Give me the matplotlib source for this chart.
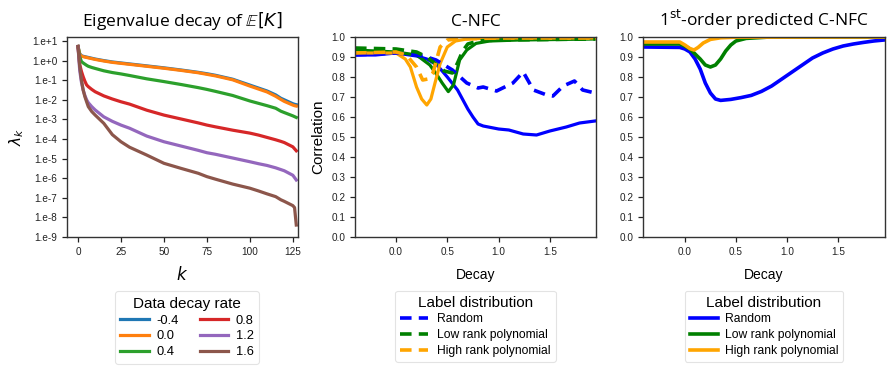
import numpy as np
import matplotlib
matplotlib.use("Agg")
import matplotlib.pyplot as plt
from matplotlib.ticker import FixedLocator, FixedFormatter

plt.rcParams['font.family'] = ['Liberation Sans', 'DejaVu Sans']
plt.rcParams['mathtext.fontset'] = 'dejavusans'

# ---------------- Panel 1 data (log10 eigenvalues) ----------------
k_pts = [0, 1, 2, 3, 4, 5, 6, 8, 10, 15, 20, 25, 30, 40, 50, 60, 70, 75, 80, 90, 100, 105, 110, 115, 118, 120, 125, 126, 127]
decay_rates = ["-0.4", "0.0", "0.4", "0.8", "1.2", "1.6"]
log_m04 = [0.72, 0.35, 0.25, 0.22, 0.20, 0.18, 0.16, 0.12, 0.08, 0.0, -0.07, -0.12, -0.17, -0.27, -0.37, -0.48, -0.6, -0.67, -0.75, -0.95, -1.25, -1.40, -1.55, -1.75, -1.92, -2.0, -2.2, -2.23, -2.25]
log_00 = [0.72, 0.33, 0.23, 0.20, 0.18, 0.16, 0.14, 0.10, 0.06, -0.02, -0.09, -0.14, -0.19, -0.29, -0.39, -0.50, -0.62, -0.70, -0.78, -0.98, -1.30, -1.45, -1.60, -1.82, -1.98, -2.08, -2.27, -2.30, -2.32]
log_04 = [0.72, 0.2, -0.05, -0.12, -0.18, -0.24, -0.29, -0.35, -0.40, -0.52, -0.61, -0.68, -0.76, -0.93, -1.07, -1.22, -1.38, -1.47, -1.57, -1.78, -2.06, -2.18, -2.30, -2.43, -2.58, -2.65, -2.82, -2.86, -2.9]
log_08 = [0.72, -0.2, -0.55, -0.82, -1.05, -1.24, -1.33, -1.47, -1.59, -1.80, -1.96, -2.10, -2.22, -2.53, -2.78, -2.98, -3.18, -3.29, -3.38, -3.55, -3.70, -3.80, -3.92, -4.04, -4.12, -4.18, -4.40, -4.50, -4.6]
log_12 = [0.72, -0.5, -1.1, -1.5, -1.78, -2.0, -2.15, -2.35, -2.52, -2.87, -3.10, -3.29, -3.45, -3.85, -4.14, -4.36, -4.58, -4.70, -4.78, -4.97, -5.16, -5.26, -5.35, -5.47, -5.56, -5.62, -5.85, -5.97, -6.09]
log_16 = [0.72, -0.3, -0.99, -1.5, -1.84, -2.1, -2.35, -2.60, -2.78, -3.20, -3.78, -4.14, -4.42, -4.82, -5.24, -5.50, -5.75, -5.92, -6.05, -6.30, -6.51, -6.65, -6.80, -6.94, -7.10, -7.18, -7.40, -7.50, -8.39]
log_series = [log_m04, log_00, log_04, log_08, log_12, log_16]
p1_colors = ["#1f77b4", "#ff7f0e", "#2ca02c", "#d62728", "#9467bd", "#8c564b"]
ytick_exps = [1, 0, -1, -2, -3, -4, -5, -6, -7, -8, -9]
ytick_labels = ["1.e+1", "1.e+0", "1.e-1", "1.e-2", "1.e-3", "1.e-4", "1.e-5", "1.e-6", "1.e-7", "1.e-8", "1.e-9"]

# ---------------- Panel 2 data (C-NFC) ----------------
labels = ["Random", "Low rank polynomial", "High rank polynomial"]
p23_colors = ["blue", "green", "orange"]

rand_solid_d = [-0.4, -0.2, 0.0, 0.2, 0.3, 0.4, 0.5, 0.6, 0.7, 0.75, 0.8, 0.85, 1.0, 1.1, 1.24, 1.37, 1.5, 1.66, 1.79, 1.94]
rand_solid_v = [0.91, 0.91, 0.92, 0.905, 0.89, 0.86, 0.80, 0.735, 0.64, 0.60, 0.565, 0.555, 0.54, 0.535, 0.515, 0.51, 0.53, 0.55, 0.57, 0.58]
rand_dash_d = [-0.4, -0.2, 0.0, 0.2, 0.3, 0.39, 0.55, 0.69, 0.8, 0.85, 0.98, 1.14, 1.24, 1.34, 1.47, 1.53, 1.63, 1.74, 1.82, 1.94]
rand_dash_v = [0.91, 0.915, 0.92, 0.91, 0.9, 0.885, 0.835, 0.77, 0.745, 0.75, 0.73, 0.77, 0.825, 0.735, 0.71, 0.705, 0.755, 0.78, 0.735, 0.72]
low_solid_d = [-0.4, 0.0, 0.2, 0.33, 0.4, 0.45, 0.51, 0.56, 0.62, 0.69, 0.78, 0.91, 1.2, 1.94]
low_solid_v = [0.935, 0.925, 0.91, 0.86, 0.81, 0.77, 0.727, 0.76, 0.885, 0.935, 0.968, 0.98, 0.985, 0.99]
low_dash_d = [-0.4, 0.0, 0.2, 0.3, 0.4, 0.47, 0.55, 0.6, 0.65, 0.7, 0.8, 1.0, 1.94]
low_dash_v = [0.945, 0.94, 0.925, 0.9, 0.86, 0.83, 0.82, 0.87, 0.93, 0.965, 0.98, 0.985, 0.99]
high_solid_d = [-0.4, 0.0, 0.09, 0.14, 0.2, 0.25, 0.3, 0.34, 0.38, 0.43, 0.5, 0.58, 0.69, 1.0, 1.94]
high_solid_v = [0.92, 0.92, 0.89, 0.85, 0.75, 0.69, 0.66, 0.69, 0.77, 0.867, 0.95, 0.98, 0.99, 0.995, 0.995]
high_dash_d = [-0.4, 0.0, 0.1, 0.2, 0.26, 0.31, 0.36, 0.43, 0.5, 0.6, 1.0, 1.94]
high_dash_v = [0.92, 0.925, 0.91, 0.85, 0.785, 0.79, 0.82, 0.95, 0.985, 0.99, 0.995, 0.995]

# ---------------- Panel 3 data (1st-order predicted) ----------------
rand_pred_d = [-0.4, -0.05, 0.0, 0.05, 0.1, 0.15, 0.2, 0.25, 0.3, 0.35, 0.45, 0.55, 0.65, 0.75, 0.85, 0.95, 1.05, 1.15, 1.25, 1.35, 1.45, 1.55, 1.65, 1.75, 1.85, 1.95]
rand_pred_v = [0.95, 0.948, 0.94, 0.925, 0.89, 0.84, 0.77, 0.72, 0.69, 0.683, 0.688, 0.697, 0.708, 0.728, 0.755, 0.79, 0.825, 0.86, 0.895, 0.92, 0.94, 0.955, 0.965, 0.973, 0.98, 0.985]
low_pred_d = [-0.4, -0.05, 0.0, 0.05, 0.1, 0.15, 0.2, 0.25, 0.3, 0.35, 0.4, 0.45, 0.5, 0.6, 0.8, 1.95]
low_pred_v = [0.965, 0.965, 0.955, 0.94, 0.915, 0.89, 0.86, 0.85, 0.86, 0.89, 0.93, 0.96, 0.98, 0.993, 0.999, 1.0]
high_pred_d = [-0.4, -0.05, 0.0, 0.05, 0.09, 0.13, 0.18, 0.25, 0.35, 0.5, 1.95]
high_pred_v = [0.975, 0.975, 0.96, 0.942, 0.935, 0.948, 0.97, 0.988, 0.996, 0.999, 1.0]

# ---------------- Figure ----------------
fig = plt.figure(figsize=(8.94, 3.71), dpi=100)
W, H = 894, 371
def add_ax(x0, x1, y0, y1):
    return fig.add_axes([x0 / W, 1 - y1 / H, (x1 - x0) / W, (y1 - y0) / H])

ax1 = add_ax(67, 298, 37, 237)
ax2 = add_ax(355, 596, 37, 237)
ax3 = add_ax(643, 885, 37, 237)

spine_col = "#333333"
for ax in (ax1, ax2, ax3):
    for s in ax.spines.values():
        s.set_color(spine_col)
        s.set_linewidth(1.0)
    ax.tick_params(axis='both', which='both', direction='out', labelsize=7.2,
                   colors="#222222", length=3.5, width=0.9, top=False, right=False)

def style_legend(leg):
    leg.get_frame().set_edgecolor("#dddddd")
    leg.get_frame().set_linewidth(0.8)

# Panel 1
for name, vals, c in zip(decay_rates, log_series, p1_colors):
    ax1.plot(k_pts, 10.0 ** np.array(vals), color=c, lw=2.3, label=name)
ax1.set_yscale('log')
ax1.set_ylim(1e-9, 1.6e1)
ax1.set_xlim(-6.4, 128)
ax1.yaxis.set_major_locator(FixedLocator([10.0 ** e for e in ytick_exps]))
ax1.yaxis.set_major_formatter(FixedFormatter(ytick_labels))
ax1.yaxis.set_minor_locator(FixedLocator([]))
ax1.set_xticks([0, 25, 50, 75, 100, 125])
ax1.set_xlabel("$k$", fontsize=12, labelpad=6)
ax1.set_ylabel(r"$\lambda_k$", fontsize=11)
ax1.set_title(r"Eigenvalue decay of $\mathbb{E}[K]$", fontsize=12.5, pad=8,
              family=['Open Sans', 'DejaVu Sans'])
leg1 = ax1.legend(title="Data decay rate", ncol=2, loc='upper center',
                  bbox_to_anchor=(0.52, -0.24), fontsize=9.3, title_fontsize=11,
                  frameon=True, handlelength=2.2, columnspacing=1.6,
                  borderpad=0.4, labelspacing=0.3, handletextpad=0.6)
style_legend(leg1)

# Panel 2
solid = [(rand_solid_d, rand_solid_v), (low_solid_d, low_solid_v), (high_solid_d, high_solid_v)]
dashed = [(rand_dash_d, rand_dash_v), (low_dash_d, low_dash_v), (high_dash_d, high_dash_v)]
for (d, v), c in zip(solid, p23_colors):
    ax2.plot(d, v, color=c, lw=2.3)
for (d, v), c, lab in zip(dashed, p23_colors, labels):
    ax2.plot(d, v, color=c, lw=2.6, ls=(0, (3.2, 2.0)), label=lab)
ax2.set_xlim(-0.4, 1.95)
ax2.set_ylim(0, 1.0)
ax2.set_yticks(np.arange(0, 1.01, 0.1))
ax2.set_xticks([0.0, 0.5, 1.0, 1.5])
ax2.set_xlabel("Decay", fontsize=10, labelpad=8)
ax2.set_ylabel("Correlation", fontsize=11)
ax2.set_title("C-NFC", fontsize=12.5, pad=8, family=['Open Sans', 'DejaVu Sans'])
leg2 = ax2.legend(title="Label distribution", loc='upper center',
                  bbox_to_anchor=(0.5, -0.24), fontsize=8.7, title_fontsize=11,
                  frameon=True, handlelength=2.25, borderpad=0.4,
                  labelspacing=0.3, handletextpad=0.8)
style_legend(leg2)

# Panel 3
pred = [(rand_pred_d, rand_pred_v), (low_pred_d, low_pred_v), (high_pred_d, high_pred_v)]
for (d, v), c, lab in zip(pred, p23_colors, labels):
    ax3.plot(d, v, color=c, lw=2.6, label=lab)
ax3.set_xlim(-0.41, 1.96)
ax3.set_ylim(0, 1.0)
ax3.set_yticks(np.arange(0, 1.01, 0.1))
ax3.set_xticks([0.0, 0.5, 1.0, 1.5])
ax3.set_xlabel("Decay", fontsize=10, labelpad=8)
ax3.set_title(r"1$^{\mathrm{st}}$-order predicted C-NFC", fontsize=12.5, pad=8,
              family=['Open Sans', 'DejaVu Sans'])
leg3 = ax3.legend(title="Label distribution", loc='upper center',
                  bbox_to_anchor=(0.5, -0.24), fontsize=8.7, title_fontsize=11,
                  frameon=True, handlelength=2.3, borderpad=0.4,
                  labelspacing=0.3, handletextpad=0.6)
style_legend(leg3)

fig.savefig("out.png", dpi=100)
